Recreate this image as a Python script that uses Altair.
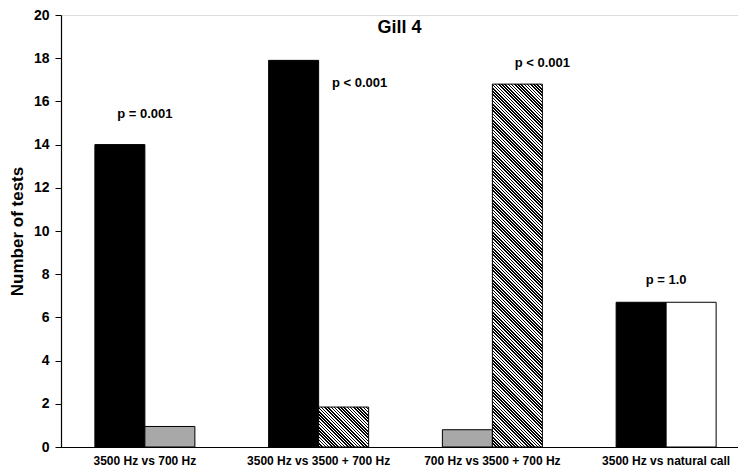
import altair as alt
import pandas as pd

# ---- data ----
groups = ["3500 Hz vs 700 Hz", "3500 Hz vs 3500 + 700 Hz",
          "700 Hz vs 3500 + 700 Hz", "3500 Hz vs natural call"]
first_values = [14.0, 17.9, 0.8, 6.7]
second_values = [0.95, 1.85, 16.8, 6.7]
first_kind = ["black", "black", "dotted", "black"]
second_kind = ["dotted", "hatched", "hatched", "white"]

p_texts = ["p = 0.001", "p < 0.001", "p < 0.001", "p = 1.0"]
p_values = [15.4, 16.85, 17.8, 7.75]

# ---- layout / style ----
FONT = "Liberation Sans"
PLOT_W, PLOT_H = 677, 432
Y_MAX = 20
BAR_W = 50
label_dx = [0, 41, 50, 0]

rows = []
for i, g in enumerate(groups):
    rows.append({"id": 2 * i, "group": g, "slot": "first", "value": first_values[i], "kind": first_kind[i]})
    rows.append({"id": 2 * i + 1, "group": g, "slot": "second", "value": second_values[i], "kind": second_kind[i]})
df = pd.DataFrame(rows)

x_enc = alt.X("group:N", sort=groups,
              scale=alt.Scale(domain=groups, range=[-3, 692], paddingInner=0, paddingOuter=0),
              axis=alt.Axis(title=None, labelAngle=0, ticks=False, labelFont=FONT, labelFontSize=12,
                            labelFontWeight="bold", labelColor="black", labelPadding=8,
                            domainColor="black", domainWidth=1.2))
xo_enc = alt.XOffset("slot:N", scale=alt.Scale(domain=["first", "second"], paddingInner=0, paddingOuter=0.7375))
y_enc = alt.Y("value:Q", scale=alt.Scale(domain=[0, Y_MAX], nice=False),
              axis=alt.Axis(title="Number of tests", values=list(range(0, 21, 2)), grid=False,
                            tickSize=6, tickColor="black", domainColor="black", domainWidth=1.2,
                            labelFont=FONT, labelFontSize=14, labelFontWeight="bold", labelColor="black",
                            labelPadding=6, titleFont=FONT, titleFontSize=17, titleFontWeight="bold",
                            titleColor="black", titleX=-44, titleY=216, titleBaseline="middle",
                            titleAngle=-90, titleAlign="center"))

base = alt.Chart(df).encode(x=x_enc, xOffset=xo_enc, y=y_enc)

layers = []
layers.append(base.transform_filter(alt.datum.kind == "black").mark_bar(color="black", stroke="black", strokeWidth=1))
layers.append(base.transform_filter(alt.datum.kind == "white").mark_bar(color="white", stroke="black", strokeWidth=1))
layers.append(base.transform_filter(alt.datum.kind == "dotted").mark_bar(color="#a8a8a8", stroke="black", strokeWidth=1))


def hatch_gradient(value, period=3.2):
    w = BAR_W
    h = value * PLOT_H / Y_MAX
    s = (w + h) / (w * w + h * h)
    n = max(1, int(round((w + h) / period)))
    stops = []
    for k in range(n):
        a, m, b = k / n, (k + 0.5) / n, (k + 1) / n
        stops += [alt.GradientStop(offset=a, color="black"), alt.GradientStop(offset=m, color="black"),
                  alt.GradientStop(offset=m, color="white"), alt.GradientStop(offset=b, color="white")]
    return alt.LinearGradient(gradient="linear", stops=stops, x1=0, y1=1, x2=s * w, y2=1 - s * h)


for r in rows:
    if r["kind"] == "hatched":
        layers.append(base.transform_filter(alt.datum.id == r["id"]).mark_bar(
            color=hatch_gradient(r["value"]), stroke="black", strokeWidth=1))

pdf = pd.DataFrame({"group": groups, "label": p_texts, "value": p_values})
for i in range(len(groups)):
    layers.append(alt.Chart(pdf).transform_filter(alt.datum.group == groups[i]).mark_text(
        font=FONT, fontSize=13, fontWeight="bold", color="black", dx=label_dx[i], baseline="middle"
    ).encode(x=alt.X("group:N", sort=groups), y=alt.Y("value:Q"), text="label:N"))

chart = alt.layer(*layers).properties(
    width=PLOT_W, height=PLOT_H,
    title=alt.TitleParams("Gill 4", font=FONT, fontSize=18, fontWeight="bold", color="black",
                          anchor="middle", frame="group", offset=-43, baseline="alphabetic"),
    autosize=alt.AutoSizeParams(type="none"),
    padding={"left": 53, "top": 7, "right": 0, "bottom": 20},
).configure_view(stroke=None).configure(background="white")

chart.save("out.html", embed_options={"renderer": "svg", "actions": False})
